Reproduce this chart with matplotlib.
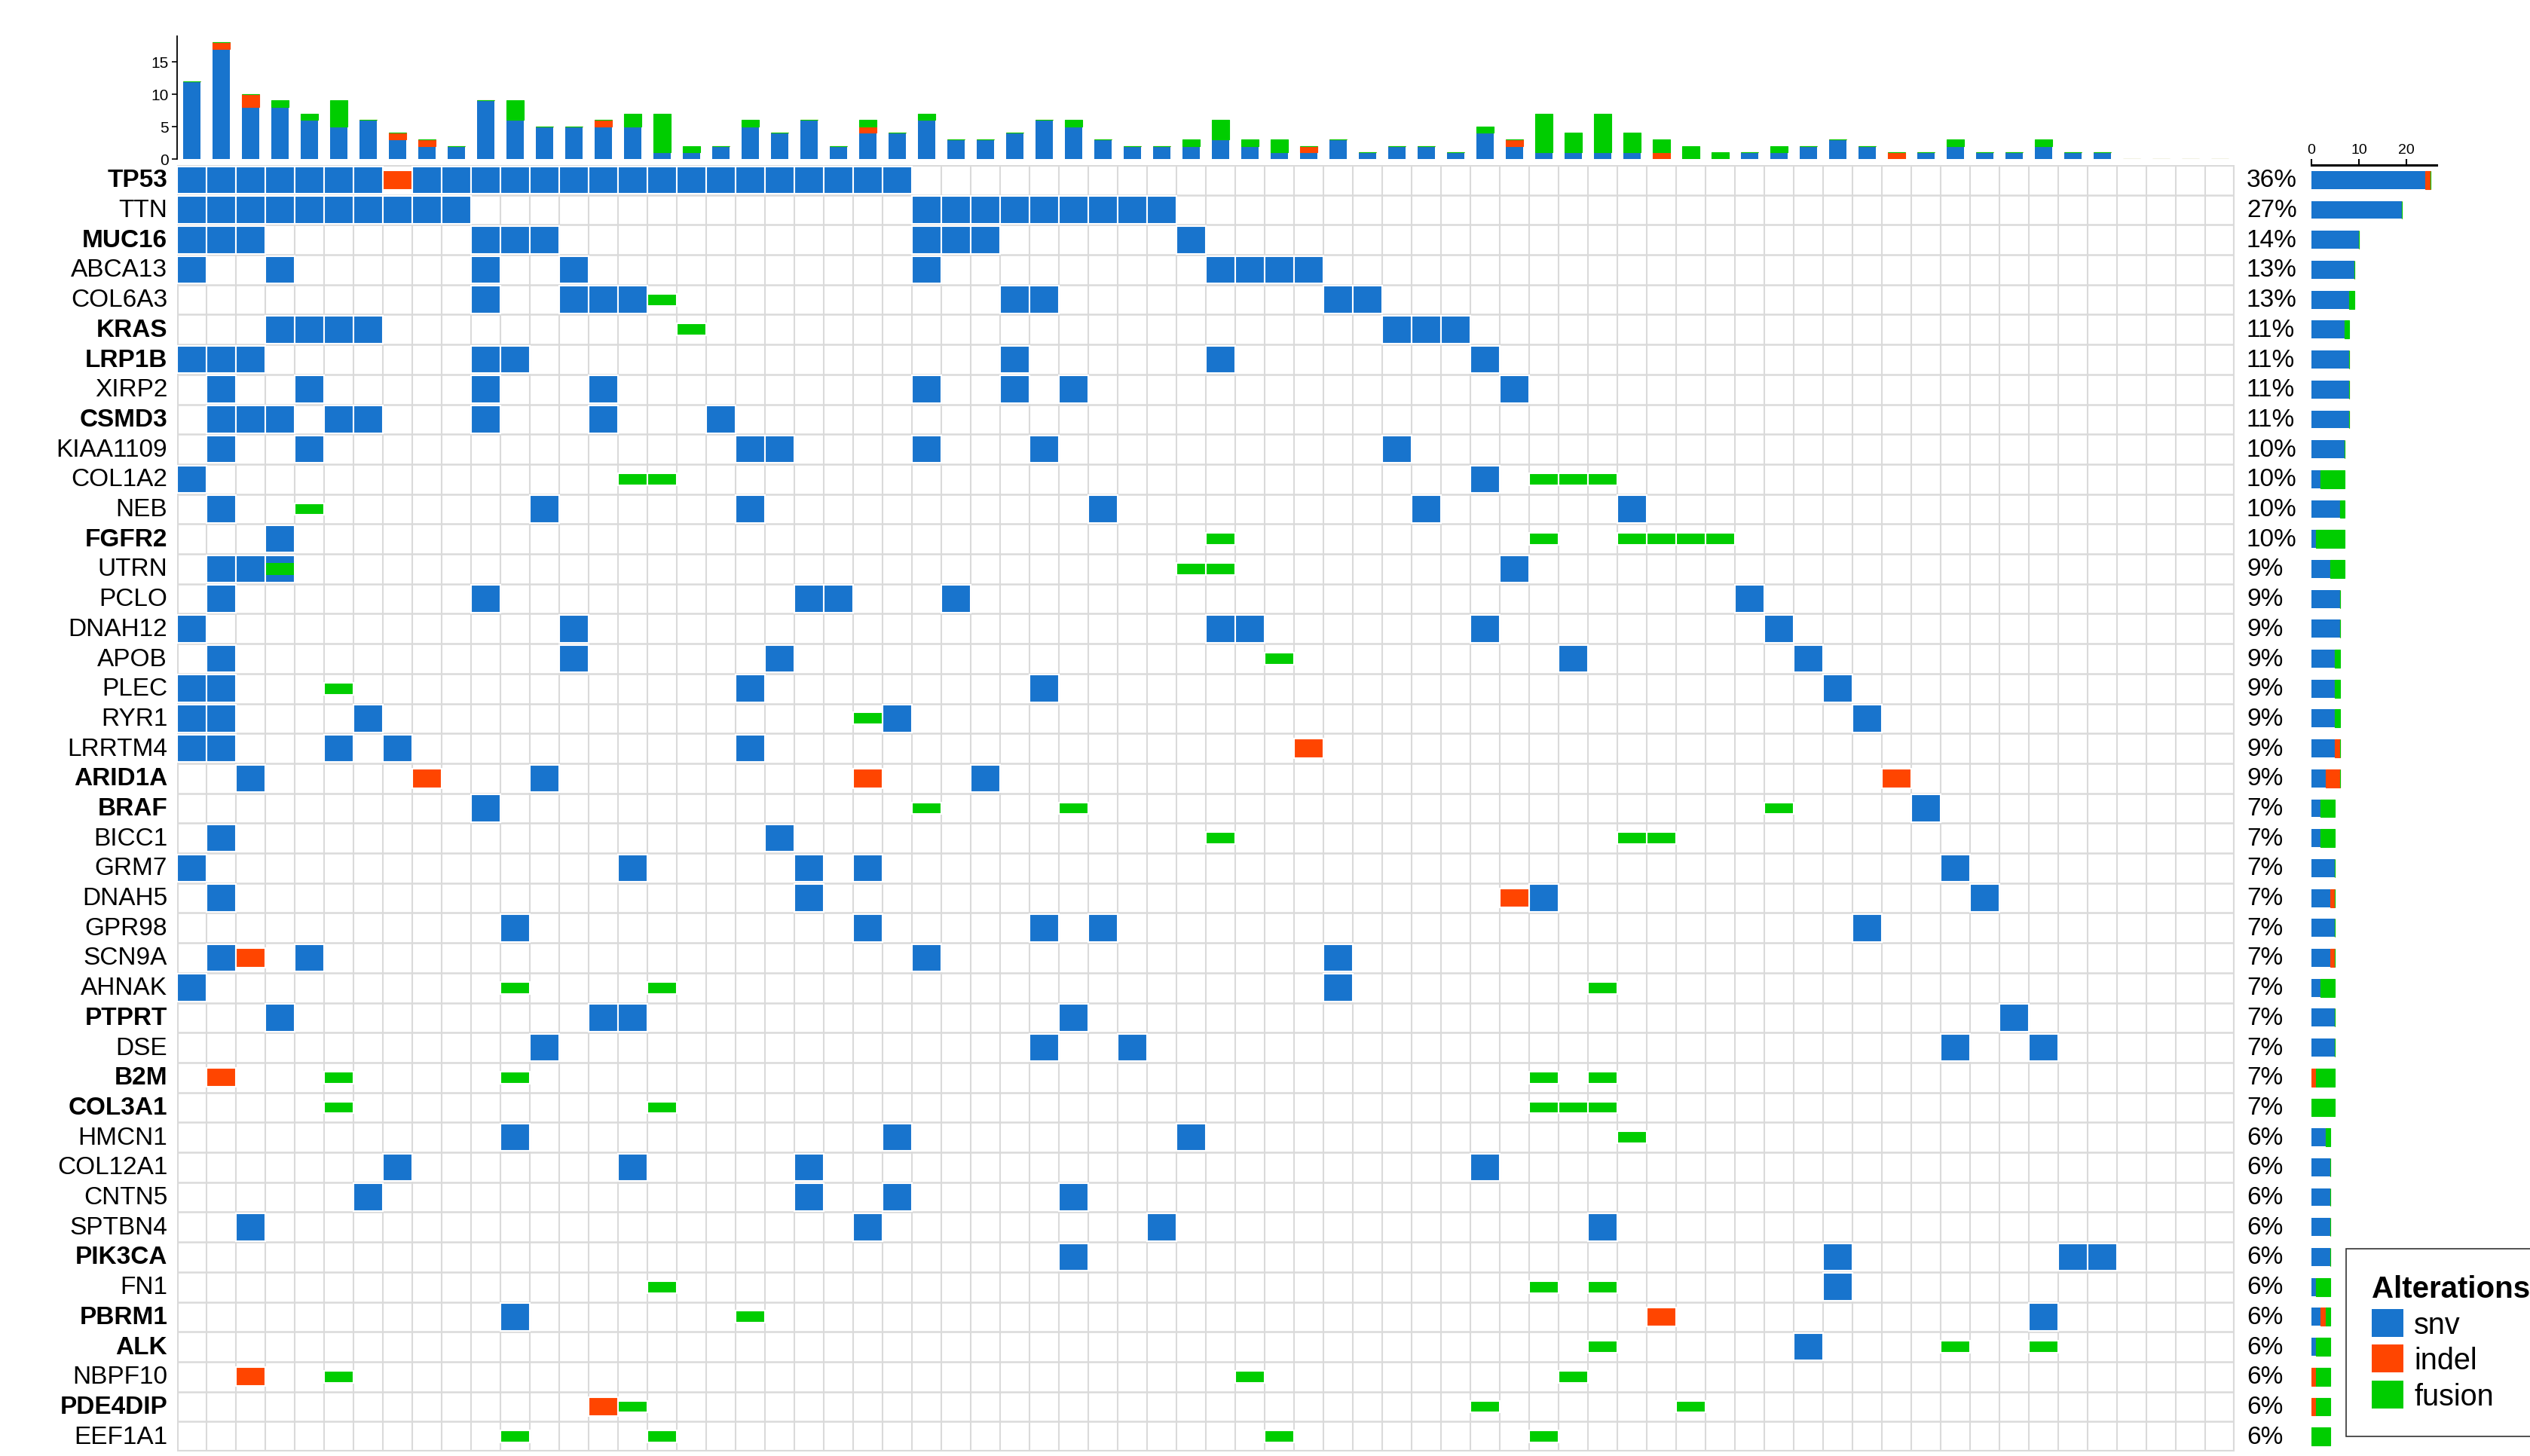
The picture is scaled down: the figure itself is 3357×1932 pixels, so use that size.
"""Oncoprint: top-mutated genes across 70 samples (snv / indel / fusion)."""

import matplotlib
matplotlib.use("Agg")
import matplotlib.pyplot as plt
from matplotlib.patches import Patch
import numpy as np

plt.rcParams["font.family"] = ["Liberation Sans", "DejaVu Sans"]

N_SAMPLES = 70

GENES = [
    "TP53", "TTN", "MUC16", "ABCA13", "COL6A3", "KRAS", "LRP1B", "XIRP2", "CSMD3",
    "KIAA1109", "COL1A2", "NEB", "FGFR2", "UTRN", "PCLO", "DNAH12", "APOB", "PLEC",
    "RYR1", "LRRTM4", "ARID1A", "BRAF", "BICC1", "GRM7", "DNAH5", "GPR98", "SCN9A",
    "AHNAK", "PTPRT", "DSE", "B2M", "COL3A1", "HMCN1", "COL12A1", "CNTN5", "SPTBN4",
    "PIK3CA", "FN1", "PBRM1", "ALK", "NBPF10", "PDE4DIP", "EEF1A1",
]
BOLD_GENES = {"TP53", "MUC16", "KRAS", "LRP1B", "CSMD3", "FGFR2", "ARID1A", "BRAF",
              "PTPRT", "B2M", "COL3A1", "PIK3CA", "PBRM1", "ALK", "PDE4DIP"}

# sample (column) indices carrying each alteration, one list per gene
SNV = [
    [0, 1, 2, 3, 4, 5, 6, 8, 9, 10, 11, 12, 13, 14, 15, 16, 17, 18, 19, 20, 21, 22, 23, 24],
    [0, 1, 2, 3, 4, 5, 6, 7, 8, 9, 25, 26, 27, 28, 29, 30, 31, 32, 33],
    [0, 1, 2, 10, 11, 12, 25, 26, 27, 34],
    [0, 3, 10, 13, 25, 35, 36, 37, 38],
    [10, 13, 14, 15, 28, 29, 39, 40],
    [3, 4, 5, 6, 41, 42, 43],
    [0, 1, 2, 10, 11, 28, 35, 44],
    [1, 4, 10, 14, 25, 28, 30, 45],
    [1, 2, 3, 5, 6, 10, 14, 18],
    [1, 4, 19, 20, 25, 29, 41],
    [0, 44],
    [1, 12, 19, 31, 42, 49],
    [3],
    [1, 2, 3, 45],
    [1, 10, 21, 22, 26, 53],
    [0, 13, 35, 36, 44, 54],
    [1, 13, 20, 47, 55],
    [0, 1, 19, 29, 56],
    [0, 1, 6, 24, 57],
    [0, 1, 5, 7, 19],
    [2, 12, 27],
    [10, 59],
    [1, 20],
    [0, 15, 21, 23, 60],
    [1, 21, 46, 61],
    [11, 23, 29, 31, 57],
    [1, 4, 25, 39],
    [0, 39],
    [3, 14, 15, 30, 62],
    [12, 29, 32, 60, 63],
    [],
    [],
    [11, 24, 34],
    [7, 15, 21, 44],
    [6, 21, 24, 30],
    [2, 23, 33, 48],
    [30, 56, 64, 65],
    [56],
    [11, 63],
    [55],
    [],
    [],
    [],
]
INDEL = [
    [7], [], [], [], [], [], [], [], [], [], [], [], [], [], [], [], [], [], [],
    [38], [8, 23, 58], [], [], [], [45], [], [2], [], [], [], [1], [], [], [], [], [],
    [], [], [50], [], [2], [14], [],
]
FUSION = [
    [], [], [], [], [16], [17], [], [], [], [], [15, 16, 46, 47, 48], [4],
    [35, 46, 49, 50, 51, 52], [3, 34, 35], [], [], [37], [5], [23], [], [],
    [25, 30, 54], [35, 49, 50], [], [], [], [], [11, 16, 48], [], [], [5, 11, 46, 48],
    [5, 16, 46, 47, 48], [49], [], [], [], [], [16, 46, 48], [19], [48, 60, 63],
    [5, 36, 47], [15, 44, 51], [11, 16, 37, 46],
]

SNV_COL, INDEL_COL, FUSION_COL = "#1874CD", "#FF4500", "#00CD00"
GRID_COL = "#dadada"
W, H = 3357, 1933


def fig_rect(x0, y0, x1, y1):
    """pixel box (top-left origin) -> figure fraction rect"""
    return [x0 / W, 1 - y1 / H, (x1 - x0) / W, (y1 - y0) / H]


n_genes = len(GENES)
per_sample = {k: np.zeros(N_SAMPLES) for k in ("snv", "indel", "fusion")}
for lists, key in ((SNV, "snv"), (INDEL, "indel"), (FUSION, "fusion")):
    for cols in lists:
        per_sample[key][cols] += 1

fig = plt.figure(figsize=(W / 100, H / 100), dpi=100, facecolor="white")

# ---- main grid ----
GRID_TOP, GRID_BOT, GRID_L, GRID_R = 220, 1927, 235, 2965
ax = fig.add_axes(fig_rect(GRID_L, GRID_TOP, GRID_R, GRID_BOT))
ax.set_xlim(0, N_SAMPLES); ax.set_ylim(n_genes, 0)
ax.axis("off")
ax.vlines(np.arange(N_SAMPLES + 1), 0, n_genes, color=GRID_COL, lw=1.5, zorder=1)
ax.hlines(np.arange(n_genes + 1), 0, N_SAMPLES, color=GRID_COL, lw=1.8, zorder=1)
ax.vlines([0, N_SAMPLES], 0, n_genes, color=GRID_COL, lw=3, zorder=1)
ax.hlines([0, n_genes], 0, N_SAMPLES, color=GRID_COL, lw=3, zorder=1)

for i in range(n_genes):
    snv_set = set(SNV[i])
    for cols, col, hgt in ((SNV[i], SNV_COL, 0.92), (INDEL[i], INDEL_COL, 0.64),
                           (FUSION[i], FUSION_COL, 0.40)):
        if not cols:
            continue
        # a fusion drawn over an snv cell has no white outline
        plain = [c for c in cols if not (col != SNV_COL and c in snv_set)]
        over = [c for c in cols if c not in plain]
        if plain:
            ax.bar(np.array(plain) + 0.5, hgt, width=1.0, bottom=i + 0.5 - hgt / 2,
                   color=col, edgecolor="white", linewidth=1.5, zorder=2)
        if over:
            ax.bar(np.array(over) + 0.5, hgt, width=0.94, bottom=i + 0.5 - hgt / 2,
                   color=col, linewidth=0, zorder=3)
    gene = GENES[i]
    ax.text(-0.33, i + 0.5, gene, ha="right", va="center", fontsize=24,
            fontweight="bold" if gene in BOLD_GENES else "normal", clip_on=False)
    n_alt = len(set(SNV[i]) | set(INDEL[i]) | set(FUSION[i]))
    ax.text(70.41, i + 0.5, f"{round(100 * n_alt / N_SAMPLES)}%", ha="left",
            va="center", fontsize=24, clip_on=False)

# ---- top bar chart: alterations per sample ----
ZERO_Y, PX_PER = 211.7, 8.58
axt = fig.add_axes(fig_rect(GRID_L, ZERO_Y - 19 * PX_PER, GRID_R, ZERO_Y))
xs = np.arange(N_SAMPLES) + 0.5
axt.bar(xs, per_sample["snv"], width=0.6, color=SNV_COL, linewidth=0)
axt.bar(xs, per_sample["indel"], width=0.6, bottom=per_sample["snv"], color=INDEL_COL,
        edgecolor=INDEL_COL, linewidth=0.8)
axt.bar(xs, per_sample["fusion"], width=0.6,
        bottom=per_sample["snv"] + per_sample["indel"], color=FUSION_COL,
        edgecolor=FUSION_COL, linewidth=0.8)
axt.set_xlim(0, N_SAMPLES); axt.set_ylim(0, 19)
axt.spines[["top", "right", "bottom"]].set_visible(False)
axt.spines["left"].set_linewidth(1.3)
axt.set_xticks([])
axt.set_yticks([0, 5, 10, 15])
axt.tick_params(axis="y", labelsize=15, length=5, width=1.2, pad=3)
axt.patch.set_alpha(0)

# ---- right bar chart: alterations per gene ----
axr = fig.add_axes(fig_rect(3066.7, GRID_TOP, 3233, GRID_BOT))
ys = np.arange(n_genes) + 0.5
g_snv = np.array([len(c) for c in SNV])
g_indel = np.array([len(c) for c in INDEL])
g_fusion = np.array([len(c) for c in FUSION])
axr.barh(ys, g_snv, height=0.6, color=SNV_COL, linewidth=0)
axr.barh(ys, g_indel, height=0.6, left=g_snv, color=INDEL_COL,
         edgecolor=INDEL_COL, linewidth=0.8)
axr.barh(ys, g_fusion, height=0.6, left=g_snv + g_indel, color=FUSION_COL,
         edgecolor=FUSION_COL, linewidth=0.8)
axr.set_xlim(0, 26.3); axr.set_ylim(n_genes, 0)
axr.spines[["bottom", "left", "right"]].set_visible(False)
axr.spines["top"].set_linewidth(2.2)
axr.xaxis.tick_top()
axr.set_xticks([0, 10, 20])
axr.tick_params(axis="x", labelsize=14, length=6, width=1.5, pad=3)
axr.set_yticks([])
axr.patch.set_alpha(0)

# ---- legend ----
handles = [Patch(facecolor=SNV_COL, label="snv"),
           Patch(facecolor=INDEL_COL, label="indel"),
           Patch(facecolor=FUSION_COL, label="fusion")]
leg = fig.legend(handles=handles, title="Alterations", loc="upper left",
                 bbox_to_anchor=(3113 / W, 1 - 1658 / H), fontsize=28.5,
                 title_fontproperties={"size": 29, "weight": "bold"},
                 frameon=True, fancybox=False, borderaxespad=0, borderpad=0.85,
                 handlelength=1.08, handleheight=1.06, handletextpad=0.35,
                 labelspacing=0.2, alignment="left")
leg.get_frame().set_edgecolor("black")
leg.get_frame().set_linewidth(1.2)

fig.savefig("out.png", dpi=100, facecolor="white")
